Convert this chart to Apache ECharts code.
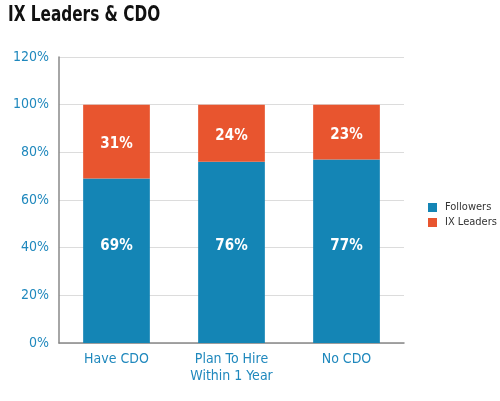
<!DOCTYPE html>
<html><head><meta charset="utf-8">
<script src="https://cdn.jsdelivr.net/npm/echarts@6/dist/echarts.min.js"></script>
<style>html,body{margin:0;padding:0;background:#fff}#c{width:500px;height:401px}</style>
</head><body><div id="c"></div>
<script>
var categories = ['Have CDO', 'Plan To Hire\nWithin 1 Year', 'No CDO'];
var followers = [69, 76, 77];
var ixLeaders = [31, 24, 23];
var yTicks = [0, 20, 40, 60, 80, 100, 120];
var FONT = '"Liberation Sans Narrow", "DejaVu Sans Condensed", sans-serif';
var chart = echarts.init(document.getElementById('c'));
chart.setOption({
  animation: false,
  graphic: [{type: 'text', x: 8, y: 5, scaleX: 0.81,
    style: {text: 'IX Leaders & CDO', fill: '#111',
      font: 'bold 21px "DejaVu Sans Condensed", sans-serif', textVerticalAlign: 'top'}}],
  legend: {orient: 'vertical', left: 423, top: 197, itemWidth: 9, itemHeight: 9, itemGap: 4,
    icon: 'rect', data: ['Followers', 'IX Leaders'],
    textStyle: {fontFamily: FONT, fontSize: 11, color: '#333', padding: [0, 0, 0, 3]}},
  grid: {left: 59, right: 96, top: 57, bottom: 58},
  xAxis: {type: 'category', data: categories,
    axisLine: {lineStyle: {color: '#888', width: 1.5}}, axisTick: {show: false},
    axisLabel: {fontFamily: FONT, fontSize: 14, color: '#1f88bd', margin: 8, lineHeight: 17}},
  yAxis: {type: 'value', min: 0, max: 120, interval: 20,
    axisLine: {show: true, lineStyle: {color: '#888', width: 1.5}},
    splitLine: {lineStyle: {color: '#dcdcdc'}},
    axisLabel: {fontFamily: FONT, fontSize: 14, color: '#1f88bd', margin: 10,
      formatter: function(v){ return v + '%'; }}},
  series: [
    {name: 'Followers', type: 'bar', stack: 'a', data: followers, barWidth: '58%',
      itemStyle: {color: '#1485b5'},
      label: {show: true, position: 'insideBottom', distance: 89, formatter: '{c}%', color: '#fff',
        fontFamily: FONT, fontWeight: 'bold', fontSize: 15}},
    {name: 'IX Leaders', type: 'bar', stack: 'a', data: ixLeaders, barWidth: '58%',
      itemStyle: {color: '#e8552f'},
      label: {show: true, position: 'inside', offset: [0, 3], formatter: '{c}%', color: '#fff',
        fontFamily: FONT, fontWeight: 'bold', fontSize: 15}}
  ]
});
</script></body></html>
